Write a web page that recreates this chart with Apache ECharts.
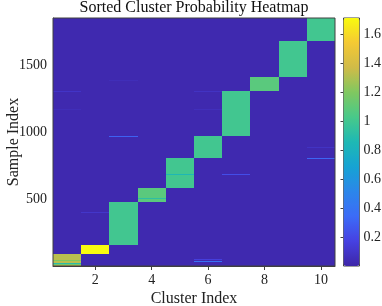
<!DOCTYPE html>
<html>
<head>
<meta charset="utf-8">
<script src="https://cdn.jsdelivr.net/npm/echarts@6/dist/echarts.min.js"></script>
<style>html,body{margin:0;padding:0;background:#fff}#c{width:382px;height:306px}</style>
</head>
<body>
<div id="c"></div>
<script>
// ---- data ----
const clusters = [1, 2, 3, 4, 5, 6, 7, 8, 9, 10];
const clusterStart = [0, 87, 157, 478, 580, 808, 968, 1306, 1410, 1679];
const clusterEnd = [87, 157, 478, 580, 808, 968, 1306, 1410, 1679, 1850];
const blockValues = [1.32, 1.71, 1.0, 1.08, 1.0, 1.0, 1.0, 1.08, 1.0, 1.0];
const backgroundValue = 0.02;
const totalSamples = 1850;
// [cluster, startSample, endSample, value]
const stripes = [
  [1, 8, 13, 1.15], [1, 19, 25, 0.9], [1, 37, 43, 1.2],
  [4, 503, 509, 0.92], [5, 681, 688, 0.85],
  [6, 28, 36, 0.38], [6, 48, 54, 0.15],
  [7, 680, 687, 0.22], [10, 799, 806, 0.32], [10, 882, 888, 0.08],
  [3, 965, 972, 0.3], [1, 1297, 1303, 0.09], [2, 394, 400, 0.1],
  [6, 1302, 1308, 0.08], [1, 1167, 1173, 0.05], [6, 1167, 1173, 0.06],
  [3, 1379, 1385, 0.05]
];
const xTicks = [2, 4, 6, 8, 10];
const yTicks = [500, 1000, 1500];
const colorMin = 0, colorMax = 1.71;
const parula = ['#3e26a8', '#4641e2', '#3c6bf7', '#2b86ea', '#16a3d3', '#1eb8b4',
  '#48c98a', '#80c860', '#d0bb48', '#f4c934', '#f9fb0e'];

// build cells
const cells = [];
clusters.forEach(c => cells.push([c, 0, totalSamples, backgroundValue]));
clusters.forEach((c, i) => cells.push([c, clusterStart[i], clusterEnd[i], blockValues[i]]));
stripes.forEach(s => cells.push(s));

const font = "'Liberation Serif', 'Times New Roman', serif";
const axisColor = '#404040';

const chart = echarts.init(document.getElementById('c'));
chart.setOption({
  animation: false,
  title: {
    text: 'Sorted Cluster Probability Heatmap',
    left: 194, top: 0, padding: 0, textAlign: 'center',
    textStyle: { fontFamily: font, fontSize: 16, fontWeight: 'normal', color: '#111' }
  },
  grid: [
    { left: 53, right: 47, top: 18, bottom: 40, show: true, borderColor: axisColor, borderWidth: 1,
      backgroundColor: 'transparent', z: 5, containLabel: false, outerBoundsMode: 'none' },
    { left: 343.5, width: 16, top: 18, height: 248, show: true, borderColor: axisColor, borderWidth: 1,
      backgroundColor: 'transparent', containLabel: false, outerBoundsMode: 'none' }
  ],
  visualMap: {
    type: 'continuous', min: colorMin, max: colorMax, dimension: 3, seriesIndex: 0,
    calculable: false, orient: 'vertical', left: 343.5, top: 18, itemWidth: 16, itemHeight: 248,
    text: null, showLabel: false, padding: 0, hoverLink: false,
    inRange: { color: parula }
  },
  xAxis: [
    { gridIndex: 0, type: 'value', min: 0.5, max: 10.5, position: 'bottom',
      name: 'Cluster Index', nameLocation: 'middle', nameGap: 25, nameMoveOverlap: false,
      nameTextStyle: { fontFamily: font, fontSize: 16, color: '#222' },
      axisLine: { show: true, lineStyle: { color: axisColor } },
      axisTick: { show: true, inside: true, length: 4, customValues: xTicks, lineStyle: { color: axisColor } },
      axisLabel: { customValues: xTicks, fontFamily: font, fontSize: 14, color: '#222', margin: 7 },
      splitLine: { show: false } },
    { gridIndex: 0, type: 'value', min: 0.5, max: 10.5, position: 'top',
      axisLine: { show: false },
      axisTick: { show: true, inside: true, length: 4, customValues: xTicks, lineStyle: { color: axisColor } },
      axisLabel: { show: false }, splitLine: { show: false } },
    { gridIndex: 1, type: 'value', min: 0, max: 1, show: false }
  ],
  yAxis: [
    { gridIndex: 0, type: 'value', min: 0, max: totalSamples, position: 'left',
      name: 'Sample Index', nameLocation: 'middle', nameGap: 31, nameRotate: 90, nameMoveOverlap: false,
      nameTextStyle: { fontFamily: font, fontSize: 16, color: '#222' },
      axisLine: { show: true, lineStyle: { color: axisColor } },
      axisTick: { show: true, inside: true, length: 4, customValues: yTicks, lineStyle: { color: axisColor } },
      axisLabel: { customValues: yTicks, formatter: v => String(v), fontFamily: font, fontSize: 14, color: '#222', margin: 6 },
      splitLine: { show: false } },
    { gridIndex: 0, type: 'value', min: 0, max: totalSamples, position: 'right',
      axisLine: { show: false },
      axisTick: { show: true, inside: true, length: 4, customValues: yTicks, lineStyle: { color: axisColor } },
      axisLabel: { show: false }, splitLine: { show: false } },
    { gridIndex: 1, type: 'value', min: colorMin, max: colorMax, interval: 0.2, position: 'right',
      axisLine: { show: false },
      axisTick: { show: true, inside: true, length: 3, lineStyle: { color: axisColor } },
      axisLabel: { fontFamily: font, fontSize: 14, color: '#222', margin: 4, showMinLabel: false, showMaxLabel: false },
      splitLine: { show: false } }
  ],
  series: [{
    type: 'custom', xAxisIndex: 0, yAxisIndex: 0, data: cells,
    encode: { x: 0, y: [1, 2] }, clip: true, silent: true,
    renderItem: function (params, api) {
      const c = api.value(0), y0 = api.value(1), y1 = api.value(2);
      const p0 = api.coord([c - 0.5, y1]);
      const p1 = api.coord([c + 0.5, y0]);
      const x0 = Math.round(p0[0]), x1 = Math.round(p1[0]);
      let t = Math.round(p0[1]), b = Math.round(p1[1]);
      if (b - t < 1) b = t + 1;
      return { type: 'rect', shape: { x: x0, y: t, width: x1 - x0, height: b - t },
        style: { fill: api.visual('color') } };
    }
  }]
});
</script>
</body>
</html>
